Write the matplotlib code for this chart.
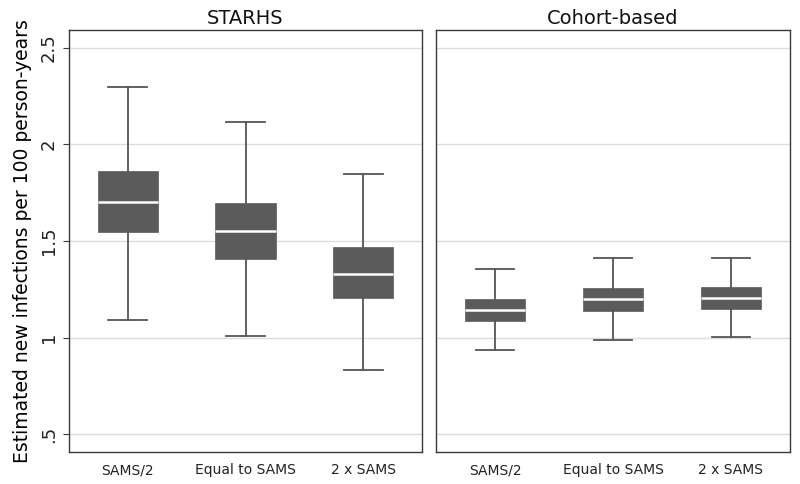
import matplotlib
matplotlib.use('Agg')
import matplotlib.pyplot as plt

categories = ['SAMS/2', 'Equal to SAMS', '2 x SAMS']
panels = ['STARHS', 'Cohort-based']

# whisker low, Q1, median, Q3, whisker high
starhs_low = [1.090, 1.007, 0.834]
starhs_q1 = [1.549, 1.408, 1.207]
starhs_med = [1.701, 1.553, 1.328]
starhs_q3 = [1.863, 1.696, 1.470]
starhs_high = [2.298, 2.119, 1.846]

cohort_low = [0.933, 0.988, 1.005]
cohort_q1 = [1.088, 1.138, 1.147]
cohort_med = [1.145, 1.197, 1.206]
cohort_q3 = [1.199, 1.254, 1.261]
cohort_high = [1.354, 1.411, 1.413]

yticks = [0.5, 1, 1.5, 2, 2.5]
ytick_labels = ['.5', '1', '1.5', '2', '2.5']

BOX = '#5b5b5b'
EDGE = '#555555'
FRAME = '#3a3a3a'
GRID = '#dddddd'

def make_stats(low, q1, med, q3, high):
    out = []
    for i in range(len(low)):
        out.append({'whislo': low[i], 'q1': q1[i], 'med': med[i],
                    'q3': q3[i], 'whishi': high[i], 'fliers': []})
    return out

fig = plt.figure(figsize=(8, 4.84), dpi=100)
ax1 = fig.add_axes([69/800, 1-452/484, 353/800, 422/484])
ax2 = fig.add_axes([436/800, 1-452/484, 354/800, 422/484])

data = [make_stats(starhs_low, starhs_q1, starhs_med, starhs_q3, starhs_high),
        make_stats(cohort_low, cohort_q1, cohort_med, cohort_q3, cohort_high)]

for ax, stats, title in zip([ax1, ax2], data, panels):
    ax.set_ylim(0.407, 2.593)
    ax.set_xlim(0.5, 3.5)
    for y in yticks:
        ax.axhline(y, color=GRID, lw=1, zorder=0)
    ax.bxp(stats, positions=[1, 2, 3], widths=0.51, patch_artist=True,
           showfliers=False,
           boxprops=dict(facecolor=BOX, edgecolor=BOX, lw=0.5),
           medianprops=dict(color='white', lw=1.8),
           whiskerprops=dict(color=EDGE, lw=1.3),
           capprops=dict(color=EDGE, lw=1.3),
           capwidths=0.33)
    ax.set_xticks([1, 2, 3])
    ax.set_xticklabels(categories, fontsize=10, color='#222222')
    ax.tick_params(axis='x', length=0, pad=8)
    ax.set_title(title, fontsize=14, pad=4, color='#111111')
    for sp in ax.spines.values():
        sp.set_color(FRAME)
        sp.set_linewidth(1)

ax1.set_yticks(yticks)
ax1.set_yticklabels(ytick_labels, rotation=90, va='center', fontsize=13, color='#222222')
ax1.tick_params(axis='y', length=4, color=FRAME, pad=4)
ax1.set_ylabel('Estimated new infections per 100 person-years', fontsize=13.5, labelpad=6)
ax2.set_yticks([])

fig.savefig('out.png', dpi=100)
